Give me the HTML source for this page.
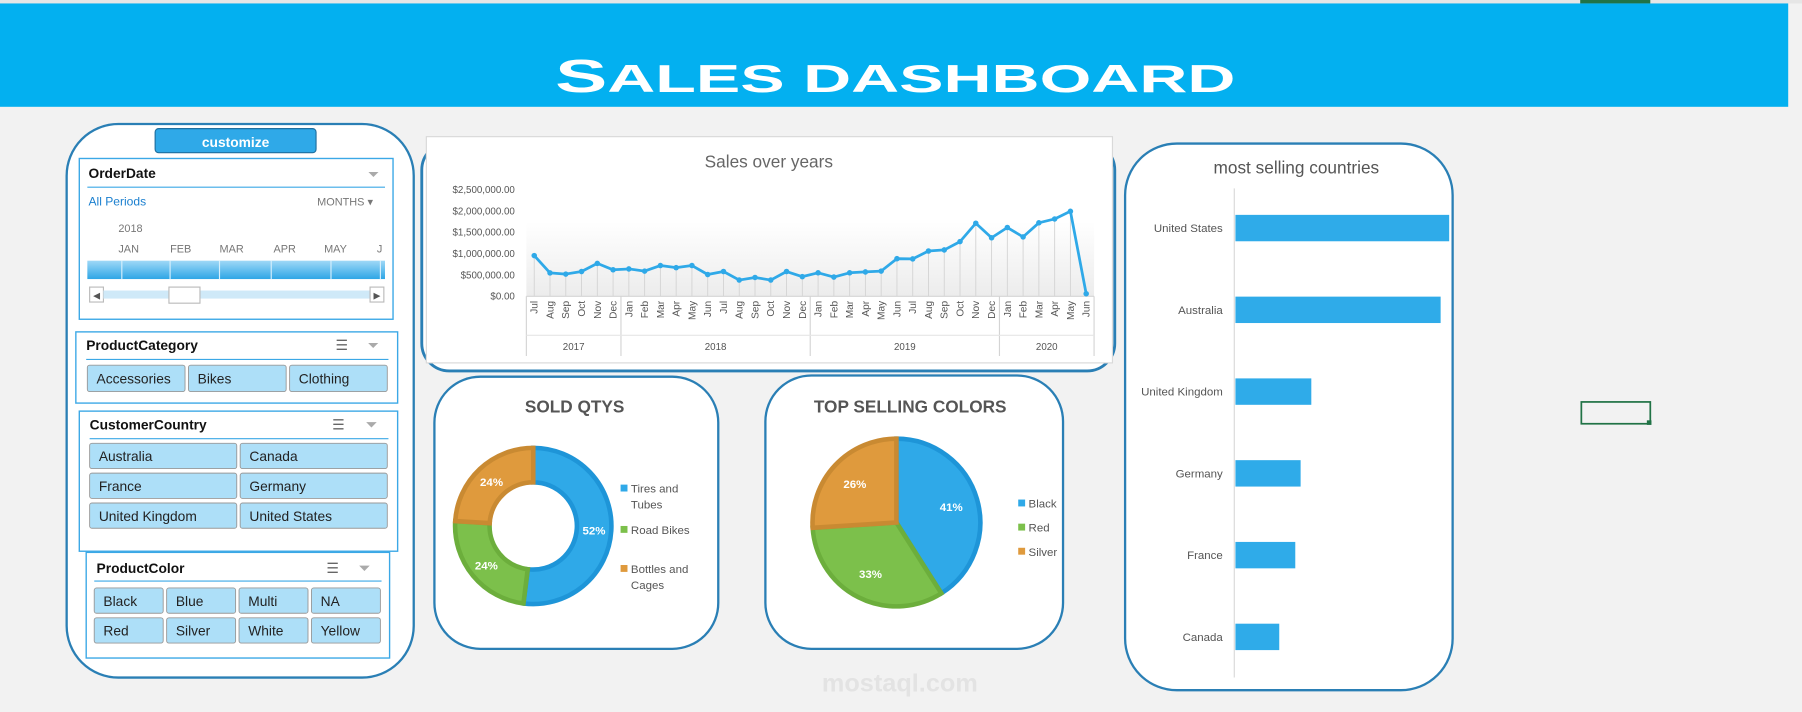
<!DOCTYPE html>
<html><head><meta charset="utf-8"><style>
html,body{margin:0;padding:0;background:#f2f2f2;}
svg{display:block;font-family:"Liberation Sans",sans-serif;}
</style></head><body>
<svg id="root" width="1802" height="712" viewBox="0 0 1568 620" preserveAspectRatio="none" xmlns="http://www.w3.org/2000/svg">
<defs>
<linearGradient id="plotg" x1="0" y1="0" x2="0" y2="1"><stop offset="0" stop-color="#ffffff"/><stop offset="1" stop-color="#ececec"/></linearGradient>
<linearGradient id="tlg" x1="0" y1="0" x2="0" y2="1"><stop offset="0" stop-color="#9fd8f7"/><stop offset="1" stop-color="#2ea6e6"/></linearGradient>
</defs>
<rect x="0" y="0" width="1568" height="620" fill="#f2f2f2"/>
<g id="grid"><rect x="0" y="0" width="1568" height="3" fill="#e6e6e6"/></g>
<rect x="1375" y="0" width="61" height="3" fill="#217346"/>
<g>
<rect x="0" y="3" width="1556" height="90" fill="#03b0f0"/>
<text x="483" y="80" fill="#fff" font-weight="bold" font-size="34" textLength="592" lengthAdjust="spacingAndGlyphs" style="font-variant:small-caps"><tspan font-size="40">S</tspan>ALES DASHBOARD</text>
</g>

<g>
<rect x="58" y="108" width="302" height="482" rx="45" fill="#fff" stroke="#2a7fb5" stroke-width="2"/>
<g>
<rect x="135" y="112" width="140" height="21" rx="3" fill="#2fa9e8" stroke="#1f6f9f" stroke-width="1"/>
<text x="205" y="128" text-anchor="middle" fill="#fff" font-size="12" font-weight="bold">customize</text></g>

<g>
<rect x="69" y="138" width="273" height="140" fill="#fff" stroke="#3ba8e6" stroke-width="1.2"/>
<text x="77" y="155" font-size="12" font-weight="bold" fill="#111">OrderDate</text>
<text x="325" y="156" font-size="12" fill="#aaa" text-anchor="middle">⏷</text>
<line x1="76" y1="163" x2="335" y2="163" stroke="#3ba8e6"/>
<text x="77" y="179" font-size="10.5" fill="#1a7fcf">All Periods</text>
<text x="276" y="179" font-size="9.5" fill="#777">MONTHS ▾</text>
<text x="103" y="202" font-size="9.5" fill="#777">2018</text>
<g font-size="9.5" fill="#777"><text x="103" y="220">JAN</text><text x="148" y="220">FEB</text><text x="191" y="220">MAR</text><text x="238" y="220">APR</text><text x="282" y="220">MAY</text><text x="328" y="220">J</text></g>
<rect x="76" y="227" width="259" height="16" fill="url(#tlg)"/>
<g stroke="#d6effc" stroke-width="1"><line x1="106" y1="227" x2="106" y2="243"/><line x1="148" y1="227" x2="148" y2="243"/><line x1="191" y1="227" x2="191" y2="243"/><line x1="236" y1="227" x2="236" y2="243"/><line x1="288" y1="227" x2="288" y2="243"/><line x1="331" y1="227" x2="331" y2="243"/></g>
<rect x="78" y="250" width="12" height="13" fill="#fff" stroke="#bbb"/><text x="81" y="260" font-size="8" fill="#555">◀</text>
<rect x="90" y="253" width="232" height="7" fill="#cfe9f8"/>
<rect x="147" y="250" width="27" height="14" fill="#fff" stroke="#bbb"/>
<rect x="322" y="250" width="12" height="13" fill="#fff" stroke="#bbb"/><text x="325" y="260" font-size="8" fill="#555">▶</text>
</g>

<g>
<rect x="66" y="289" width="280" height="62" fill="#fff" stroke="#3ba8e6" stroke-width="1.2"/>
<text x="75" y="305" font-size="12" font-weight="bold" fill="#111">ProductCategory</text>
<text x="292" y="305" font-size="12" fill="#666">☰</text><text x="320" y="305" font-size="12" fill="#aaa">⏷</text>
<line x1="75" y1="313" x2="338" y2="313" stroke="#3ba8e6"/>
</g>
<g id="catBtns"></g>

<g>
<rect x="69" y="358" width="277" height="122" fill="#fff" stroke="#3ba8e6" stroke-width="1.2"/>
<text x="78" y="374" font-size="12" font-weight="bold" fill="#111">CustomerCountry</text>
<text x="289" y="374" font-size="12" fill="#666">☰</text><text x="318" y="374" font-size="13" fill="#aaa">⏷</text>
<line x1="78" y1="382" x2="338" y2="382" stroke="#3ba8e6"/>
</g>
<g id="ctryBtns"></g>

<g>
<rect x="75" y="481" width="264" height="92" fill="#fff" stroke="#3ba8e6" stroke-width="1.2"/>
<text x="84" y="499" font-size="12" font-weight="bold" fill="#111">ProductColor</text>
<text x="284" y="499" font-size="12" fill="#666">☰</text><text x="312" y="499" font-size="13" fill="#aaa">⏷</text>
<line x1="82" y1="506" x2="332" y2="506" stroke="#3ba8e6"/>
</g>
<g id="colBtns"></g>
</g>

<g>
<rect x="367" y="124" width="603" height="199" rx="24" fill="#fff" stroke="#2a7fb5" stroke-width="2.5"/>
<rect x="371" y="119" width="597" height="197" fill="#fff" stroke="#d9d9d9"/>
<text x="669" y="146" text-anchor="middle" font-size="15" fill="#666">Sales over years</text>
<rect x="458" y="193" width="494" height="65" fill="url(#plotg)"/>
<g id="lineChart"></g>
</g>

<g>
<rect x="378" y="328" width="247" height="237" rx="40" fill="#fff" stroke="#2a7fb5" stroke-width="2"/>
<text x="500" y="359" text-anchor="middle" font-size="15" font-weight="bold" fill="#555">SOLD QTYS</text>
<g id="donut"></g>
</g>

<g>
<rect x="666" y="327" width="259" height="238" rx="40" fill="#fff" stroke="#2a7fb5" stroke-width="2"/>
<text x="792" y="359" text-anchor="middle" font-size="15" font-weight="bold" fill="#555">TOP SELLING COLORS</text>
<g id="pie"></g>
</g>

<g>
<rect x="979" y="125" width="285" height="476" rx="45" fill="#fff" stroke="#2a7fb5" stroke-width="2"/>
<text x="1128" y="151" text-anchor="middle" font-size="15" fill="#555">most selling countries</text>
<line x1="1074" y1="164" x2="1074" y2="590" stroke="#d9d9d9" stroke-width="1"/>
<g id="bars"></g>
</g>

<text x="783" y="602" text-anchor="middle" font-size="22" font-weight="bold" fill="#e3e3e3">mostaql.com</text>
<rect x="1376" y="350" width="60" height="19" fill="none" stroke="#217346" stroke-width="1.5"/>
<rect x="1433" y="366" width="4" height="4" fill="#217346"/>
</svg>
<script>
const NS="http://www.w3.org/2000/svg";
function mk(tag,attrs,parent,txt){const e=document.createElementNS(NS,tag);for(const k in attrs)e.setAttribute(k,attrs[k]);if(txt!==undefined)e.textContent=txt;parent.appendChild(e);return e;}

const categories=["Accessories","Bikes","Clothing"];
const countries=["Australia","Canada","France","Germany","United Kingdom","United States"];
const colors=["Black","Blue","Multi","NA","Red","Silver","White","Yellow"];
function buttons(gid,items,x0,y0,w,h,gx,gy,cols,fs){
  const g=document.getElementById(gid);
  items.forEach((t,i)=>{
    const c=i%cols,r=Math.floor(i/cols);
    const x=x0+c*(w+gx),y=y0+r*(h+gy);
    const b=mk('g',{},g);
    
    
    mk('rect',{x:x,y:y,width:w,height:h,rx:2,fill:"#addff8",stroke:"#999","stroke-width":0.8},b);
    mk('text',{x:x+8,y:y+h/2+4.5,"font-size":fs,fill:"#222"},b,t);
  });
}
buttons('catBtns',categories,76,318,85,23,3,0,3,12);
buttons('ctryBtns',countries,78,386,128,22,3,4,2,12);
buttons('colBtns',colors,82,512,60,22,3,4,4,12);

const months=["Jul","Aug","Sep","Oct","Nov","Dec","Jan","Feb","Mar","Apr","May","Jun","Jul","Aug","Sep","Oct","Nov","Dec","Jan","Feb","Mar","Apr","May","Jun","Jul","Aug","Sep","Oct","Nov","Dec","Jan","Feb","Mar","Apr","May","Jun"];
const sales=[953000,547000,520000,580000,770000,620000,640000,590000,720000,670000,720000,510000,580000,380000,440000,380000,580000,460000,550000,450000,550000,570000,590000,880000,875000,1060000,1085000,1280000,1710000,1370000,1610000,1390000,1720000,1810000,1990000,60000];
const years=["2017","2018","2019","2020"];
const yearCounts=[6,12,12,6];
const yTicks=[0,500000,1000000,1500000,2000000,2500000];
(function(){
  const g=document.getElementById('lineChart');
  const X0=458,X1=952,Y0=258,Y1=165,maxV=2500000;
  const step=(X1-X0)/months.length;
  const xs=i=>X0+step*(i+0.5);
  const ys=v=>Y0-(v/maxV)*(Y0-Y1);
  yTicks.forEach(v=>{
    const t=mk('text',{x:448,y:ys(v)+3,"text-anchor":"end","font-size":8.5,fill:"#555"},g,"$"+v.toLocaleString('en-US',{minimumFractionDigits:2}));
    
    
  });
  sales.forEach((v,i)=>{
    const l=mk('line',{x1:xs(i),x2:xs(i),y1:ys(v),y2:Y0,stroke:"#d4d4d4","stroke-width":0.8},g);
    
    
  });
  mk('line',{x1:X0,x2:X1,y1:Y0,y2:Y0,stroke:"#d4d4d4"},g);
  const pl=mk('polyline',{points:sales.map((v,i)=>xs(i)+","+ys(v)).join(" "),fill:"none",stroke:"#2fa9e8","stroke-width":2.4,"stroke-linejoin":"round"},g);
  
  
  sales.forEach((v,i)=>{
    const c=mk('circle',{cx:xs(i),cy:ys(v),r:2.4,fill:"#2fa9e8"},g);
    
    
  });
  months.forEach((m,i)=>{
    const t=mk('text',{x:0,y:0,"font-size":8.8,fill:"#555","text-anchor":"end",transform:`translate(${xs(i)+3},${Y0+4}) rotate(-90)`},g,m);
    
    
  });
  let acc=0;
  mk('line',{x1:X0,x2:X0,y1:Y0,y2:310,stroke:"#d4d4d4"},g);
  years.forEach((y,k)=>{
    const a=X0+acc*step;acc+=yearCounts[k];const b=X0+acc*step;
    mk('line',{x1:b,x2:b,y1:Y0,y2:310,stroke:"#d4d4d4"},g);
    const t=mk('text',{x:(a+b)/2,y:305,"text-anchor":"middle","font-size":8.5,fill:"#555"},g,y);
    
    
  });
  mk('line',{x1:X0,x2:X1,y1:292,y2:292,stroke:"#e6e6e6"},g);
})();

const qtyLabels=["Tires and Tubes","Road Bikes","Bottles and Cages"];
const qtyValues=[52,24,24];
const colorLabels=["Black","Red","Silver"];
const colorValues=[41,33,26];
const fills=["#2fa9e8","#7cc04b","#df9a3d"];
const edges=["#1e95d8","#6cae3c","#c98a32"];
function arc(cx,cy,r,ri,a0,a1){
  const p=(a,rr)=>[cx+rr*Math.sin(a),cy-rr*Math.cos(a)];
  const L=(a1-a0)>Math.PI?1:0;
  const [x0,y0]=p(a0,r),[x1,y1]=p(a1,r);
  if(ri>0){const [x2,y2]=p(a1,ri),[x3,y3]=p(a0,ri);
    return `M${x0},${y0}A${r},${r} 0 ${L} 1 ${x1},${y1}L${x2},${y2}A${ri},${ri} 0 ${L} 0 ${x3},${y3}Z`;}
  return `M${cx},${cy}L${x0},${y0}A${r},${r} 0 ${L} 1 ${x1},${y1}Z`;
}
function drawPie(gid,labels,values,cx,cy,r,ri,legX,legYs,name){
  const g=document.getElementById(gid);
  const tot=values.reduce((a,b)=>a+b,0);let a=0;
  values.forEach((v,i)=>{
    const a1=a+v/tot*2*Math.PI;
    const s=mk('path',{d:arc(cx,cy,r,ri,a,a1),fill:fills[i],stroke:edges[i],"stroke-width":4,"stroke-linejoin":"miter"},g);
    
    
    const m=(a+a1)/2,lr=ri>0?(r+ri)/2:r*0.68;
    const t=mk('text',{x:cx+lr*Math.sin(m),y:cy-lr*Math.cos(m)+4,"text-anchor":"middle","font-size":10,"font-weight":"bold",fill:"#fff"},g,Math.round(v/tot*100)+"%");
    
    
    a=a1;
  });
  labels.forEach((l,i)=>{
    const lg=mk('g',{},g);
    
    
    const ly=legYs[i];
    mk('rect',{x:legX,y:ly-7,width:6,height:6,fill:fills[i]},lg);
    const words=l.split(' ');
    if(l.length>10){const cut=words.length-1;
      mk('text',{x:legX+9,y:ly,"font-size":10,fill:"#555"},lg,words.slice(0,cut).join(' '));
      mk('text',{x:legX+9,y:ly+14,"font-size":10,fill:"#555"},lg,words[cut]);
    } else mk('text',{x:legX+9,y:ly,"font-size":10,fill:"#555"},lg,l);
  });
}
drawPie('donut',qtyLabels,qtyValues,464,458,68,38,540,[429,465,499],'donut');
drawPie('pie',colorLabels,colorValues,780,455,73,0,886,[442,463,484],'pie');

const barCountries=["United States","Australia","United Kingdom","Germany","France","Canada"];
const barValues=[100,96,35.5,30.5,28,20.5];
(function(){
  const g=document.getElementById('bars');
  const X0=1075,W=186,top=163,band=71.2,bh=23;
  const maxV=Math.max(...barValues);
  barCountries.forEach((c,i)=>{
    const cy=top+band*(i+0.5);
    const b=mk('rect',{x:X0,y:cy-bh/2,width:barValues[i]/maxV*W,height:bh,fill:"#2fabe9"},g);
    
    
    const t=mk('text',{x:1064,y:cy+3.5,"text-anchor":"end","font-size":10,fill:"#555"},g,c);
    
    
  });
})();
</script>
</body></html>
